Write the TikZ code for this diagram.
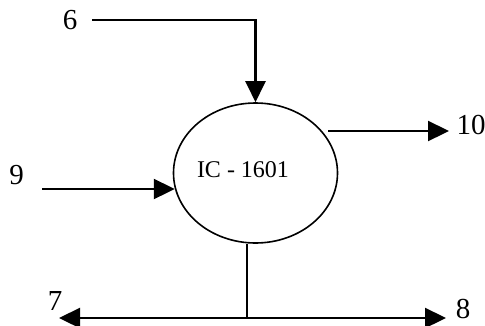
\documentclass[tikz,border=0pt]{standalone}
\usepackage{fontspec}
\setmainfont{Liberation Serif}
\usetikzlibrary{arrows.meta,%
                shapes,positioning}

\begin{document}
\begin{tikzpicture}[
x=1pt, y=-1pt,
flow/.style={line width=2.3pt,-{Triangle[length=21pt,width=20pt]}},
stream/.style={font=\fontsize{29}{29}\selectfont, inner sep=0pt}]
\useasboundingbox (0,0) rectangle (485,325);
% column
\node [ellipse,draw,line width=1.6pt,minimum width=164pt,minimum height=140pt] (ic) at (255.5,173) {};
\node [font=\fontsize{24}{24}\selectfont, inner sep=0pt] (tag) at (243,170) {IC - 1601};
% stream numbers
\node [stream] (n6) at (70,20) {6};
\node [stream] (n9) at (16.5,175) {9};
\node [stream] (n10) at (471,125) {10};
\node [stream] (n7) at (55,301) {7};
\node [stream] (n8) at (463,309) {8};
% line ends
\coordinate (s6) at (92,20);
\coordinate (s9) at (42,189);
\coordinate (s10) at (328,131);
\coordinate (e10) at (449,131);
\coordinate (jn) at (247,318);
\coordinate (e7) at (59,318);
\coordinate (e8) at (446,318);
\draw [flow] (s6) -| (ic.north);
\draw [flow] (s9) -- (s9 -| ic.191);
\draw [flow] (s10) -- (e10);
\draw [line width=2.3pt] (jn |- ic.south) -- (jn);
\draw [flow] (jn) -- (e7);
\draw [flow] (jn) -- (e8);
\end{tikzpicture}
\end{document}
